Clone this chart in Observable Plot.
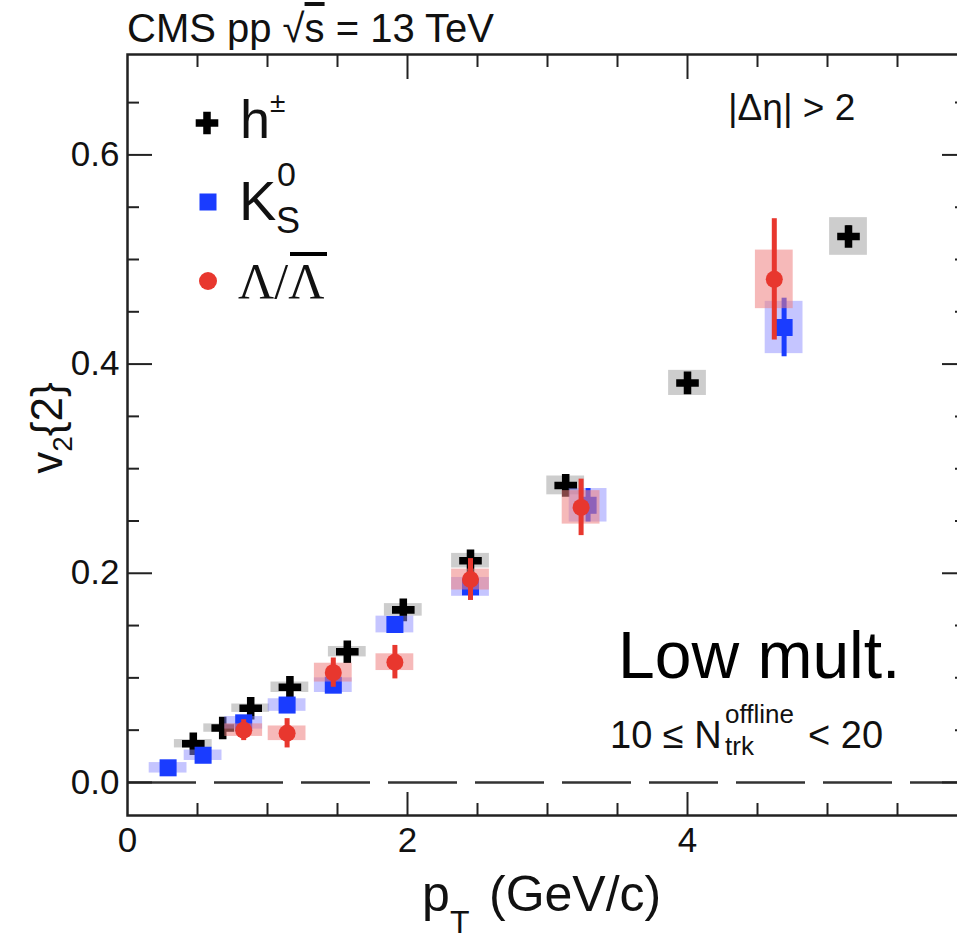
<!DOCTYPE html>
<html><head><meta charset="utf-8">
<script src="https://cdn.jsdelivr.net/npm/d3@7"></script>
<script src="https://cdn.jsdelivr.net/npm/@observablehq/plot@0.6"></script>
<style>
html,body{margin:0;padding:0;background:#fff;overflow:hidden;}
#wrap{position:relative;width:967px;height:941px;}
#wrap > svg{position:absolute;left:0;top:0;}
</style></head><body><div id="wrap"></div>
<script>
// ---- data ----
// charged hadrons h±
const hPt   = [0.47, 0.68, 0.88, 1.16, 1.57, 1.97, 2.45, 3.13, 4.00, 5.15];
const hV2   = [0.037, 0.052, 0.071, 0.091, 0.125, 0.165, 0.212, 0.284, 0.382, 0.522];
const hStat = [0.002, 0.002, 0.002, 0.002, 0.003, 0.003, 0.004, 0.005, 0.007, 0.010];
const hSys  = [0.004, 0.004, 0.004, 0.005, 0.005, 0.006, 0.007, 0.009, 0.012, 0.018];
// K0S
const kPt   = [0.29, 0.54, 0.83, 1.14, 1.47, 1.91, 2.45, 3.29, 4.69];
const kV2   = [0.014, 0.026, 0.057, 0.074, 0.093, 0.151, 0.187, 0.265, 0.435];
const kStat = [0.003, 0.003, 0.004, 0.004, 0.005, 0.006, 0.008, 0.016, 0.028];
const kSys  = [0.005, 0.005, 0.006, 0.006, 0.007, 0.008, 0.009, 0.016, 0.025];
// Lambda / anti-Lambda
const lPt   = [0.83, 1.14, 1.47, 1.91, 2.45, 3.24, 4.62];
const lV2   = [0.050, 0.047, 0.105, 0.115, 0.194, 0.263, 0.481];
const lStat = [0.010, 0.014, 0.014, 0.016, 0.020, 0.027, 0.058];
const lSys  = [0.006, 0.007, 0.009, 0.008, 0.010, 0.016, 0.028];
// ticks
const xTickLabels = [0, 2, 4];
const xMajor = [2, 4];
const xMinor = [0.5, 1, 1.5, 2.5, 3, 3.5, 4.5, 5, 5.5];
const yTickLabels = [0, 0.2, 0.4, 0.6];
const yMajor = [0, 0.2, 0.4, 0.6];
const yMinor = [0.05, 0.1, 0.15, 0.25, 0.3, 0.35, 0.45, 0.5, 0.55, 0.65];

// ---- layout / style ----
const W = 967, H = 941, mL = 127, mR = 0, mT = 54, mB = 126;
const iw = W - mL - mR, ih = H - mT - mB;
const BW = 0.135; // half-width of systematic boxes (GeV/c)
const FONT = "'Liberation Sans', Arial, Helvetica, sans-serif";
const AX = "#222";
const rows = (pt, v, st, sy) => pt.map((p, i) => ({pt: p, v: v[i], st: st[i], sy: sy[i]}));
const hRows = rows(hPt, hV2, hStat, hSys);
const kRows = rows(kPt, kV2, kStat, kSys);
const lRows = rows(lPt, lV2, lStat, lSys);

const boxes = (data, fill, op) => Plot.rect(data, {
  x1: d => d.pt - BW, x2: d => d.pt + BW, y1: d => d.v - d.sy, y2: d => d.v + d.sy,
  fill, fillOpacity: op
});
const errs = (data, stroke) => Plot.ruleX(data, {
  x: "pt", y1: d => d.v - d.st, y2: d => d.v + d.st, stroke, strokeWidth: 5
});

const chart = Plot.plot({
  width: W, height: H,
  marginLeft: mL, marginRight: mR, marginTop: mT, marginBottom: mB,
  style: {fontFamily: FONT, fontSize: "35px", color: "#111", background: "transparent", overflow: "visible"},
  x: {domain: [0, 6], ticks: xTickLabels, tickFormat: d3.format("d"), tickSize: 0, tickPadding: 12, label: null},
  y: {domain: [-0.0316, 0.696], ticks: yTickLabels, tickFormat: d3.format(".1f"), tickSize: 0, tickPadding: 8, label: null},
  marks: [
    Plot.ruleY([0], {stroke: "#333", strokeWidth: 2.5, strokeDasharray: "69,18"}),
    boxes(hRows, "#b8b8b8", 0.7),
    errs(hRows, "#000"),
    Plot.dot(hRows, {x: "pt", y: "v", symbol: "cross", r: 9.5, fill: "#000", stroke: "none"}),
    boxes(kRows, "#8c8cff", 0.5),
    errs(kRows, "#1a3cff"),
    Plot.dot(kRows, {x: "pt", y: "v", symbol: "square", r: 9.6, fill: "#1a3cff", stroke: "none"}),
    boxes(lRows, "#ee8080", 0.55),
    errs(lRows, "#e8372e"),
    Plot.dot(lRows, {x: "pt", y: "v", r: 8.5, fill: "#e8372e", stroke: "none"}),
    Plot.ruleX(xMajor, {x: d => d, insetTop: ih - 23, stroke: AX, strokeWidth: 2}),
    Plot.ruleX(xMinor, {x: d => d, insetTop: ih - 12, stroke: AX, strokeWidth: 2}),
    Plot.ruleX(xMajor, {x: d => d, insetBottom: ih - 25, stroke: AX, strokeWidth: 2}),
    Plot.ruleX(xMinor, {x: d => d, insetBottom: ih - 13, stroke: AX, strokeWidth: 2}),
    Plot.ruleY(yMajor, {y: d => d, insetRight: iw - 25, stroke: AX, strokeWidth: 2}),
    Plot.ruleY(yMinor, {y: d => d, insetRight: iw - 12, stroke: AX, strokeWidth: 2}),
    Plot.ruleY(yMajor, {y: d => d, insetLeft: iw - 25, stroke: AX, strokeWidth: 2}),
    Plot.ruleY(yMinor, {y: d => d, insetLeft: iw - 12, stroke: AX, strokeWidth: 2}),
    Plot.frame({stroke: AX, strokeWidth: 2.5})
  ]
});
const wrap = document.getElementById("wrap");
wrap.appendChild(chart);

// ---- text overlay: titles, legend, annotations ----
const ov = d3.select(wrap).append("svg")
  .attr("width", W).attr("height", H)
  .style("font-family", FONT).attr("fill", "#111");
const txt = (x, y, s, size, extra = {}) => {
  const t = ov.append("text").attr("x", x).attr("y", y).attr("font-size", size).text(s);
  for (const k in extra) t.attr(k, extra[k]);
  return t;
};
const topLabel = ov.append("text").attr("x", 127).attr("y", 42).attr("font-size", 40);
topLabel.append("tspan").text("CMS pp \u221A");
topLabel.append("tspan").attr("text-decoration", "overline").text("s");
topLabel.append("tspan").text(" = 13 TeV");
txt(728, 120, "|\u0394\u03B7| > 2", 37);
txt(618, 678, "Low mult.", 66, {fill: "#000"});
txt(610, 748, "10 \u2264 N", 38);
txt(725, 723, "offline", 26);
txt(725, 755, "trk", 26);
txt(808, 748, "< 20", 38);
txt(422, 911, "p", 50);
txt(450, 933, "T", 32);
txt(489, 911, "(GeV/c)", 50);
const yt = ov.append("text").attr("transform", "translate(62,428) rotate(-90)")
  .attr("text-anchor", "middle").attr("font-size", 44);
yt.append("tspan").text("v");
yt.append("tspan").attr("font-size", 28).attr("dy", 10).text("2");
yt.append("tspan").attr("dy", -10).text("{2}");
ov.append("path").attr("transform", "translate(207,123)")
  .attr("d", d3.symbol(d3.symbolCross, Math.PI * 9.5 * 9.5)()).attr("fill", "#000");
ov.append("path").attr("transform", "translate(208,202)")
  .attr("d", d3.symbol(d3.symbolSquare, Math.PI * 9.6 * 9.6)()).attr("fill", "#1a3cff");
ov.append("circle").attr("cx", 208).attr("cy", 281).attr("r", 9).attr("fill", "#e8372e");
txt(240, 138, "h", 54);
txt(270, 112, "\u00B1", 28);
txt(239, 220, "K", 56);
txt(277, 186, "0", 34);
txt(276, 233, "S", 36);
const lam = ov.append("text").attr("x", 238).attr("y", 298).attr("font-size", 50)
  .attr("font-family", "'Liberation Serif', 'DejaVu Serif', serif");
lam.append("tspan").text("\u039B/\u039B");
ov.append("line").attr("x1", 290).attr("x2", 327).attr("y1", 254).attr("y2", 254)
  .attr("stroke", "#000").attr("stroke-width", 4);
</script></body></html>
